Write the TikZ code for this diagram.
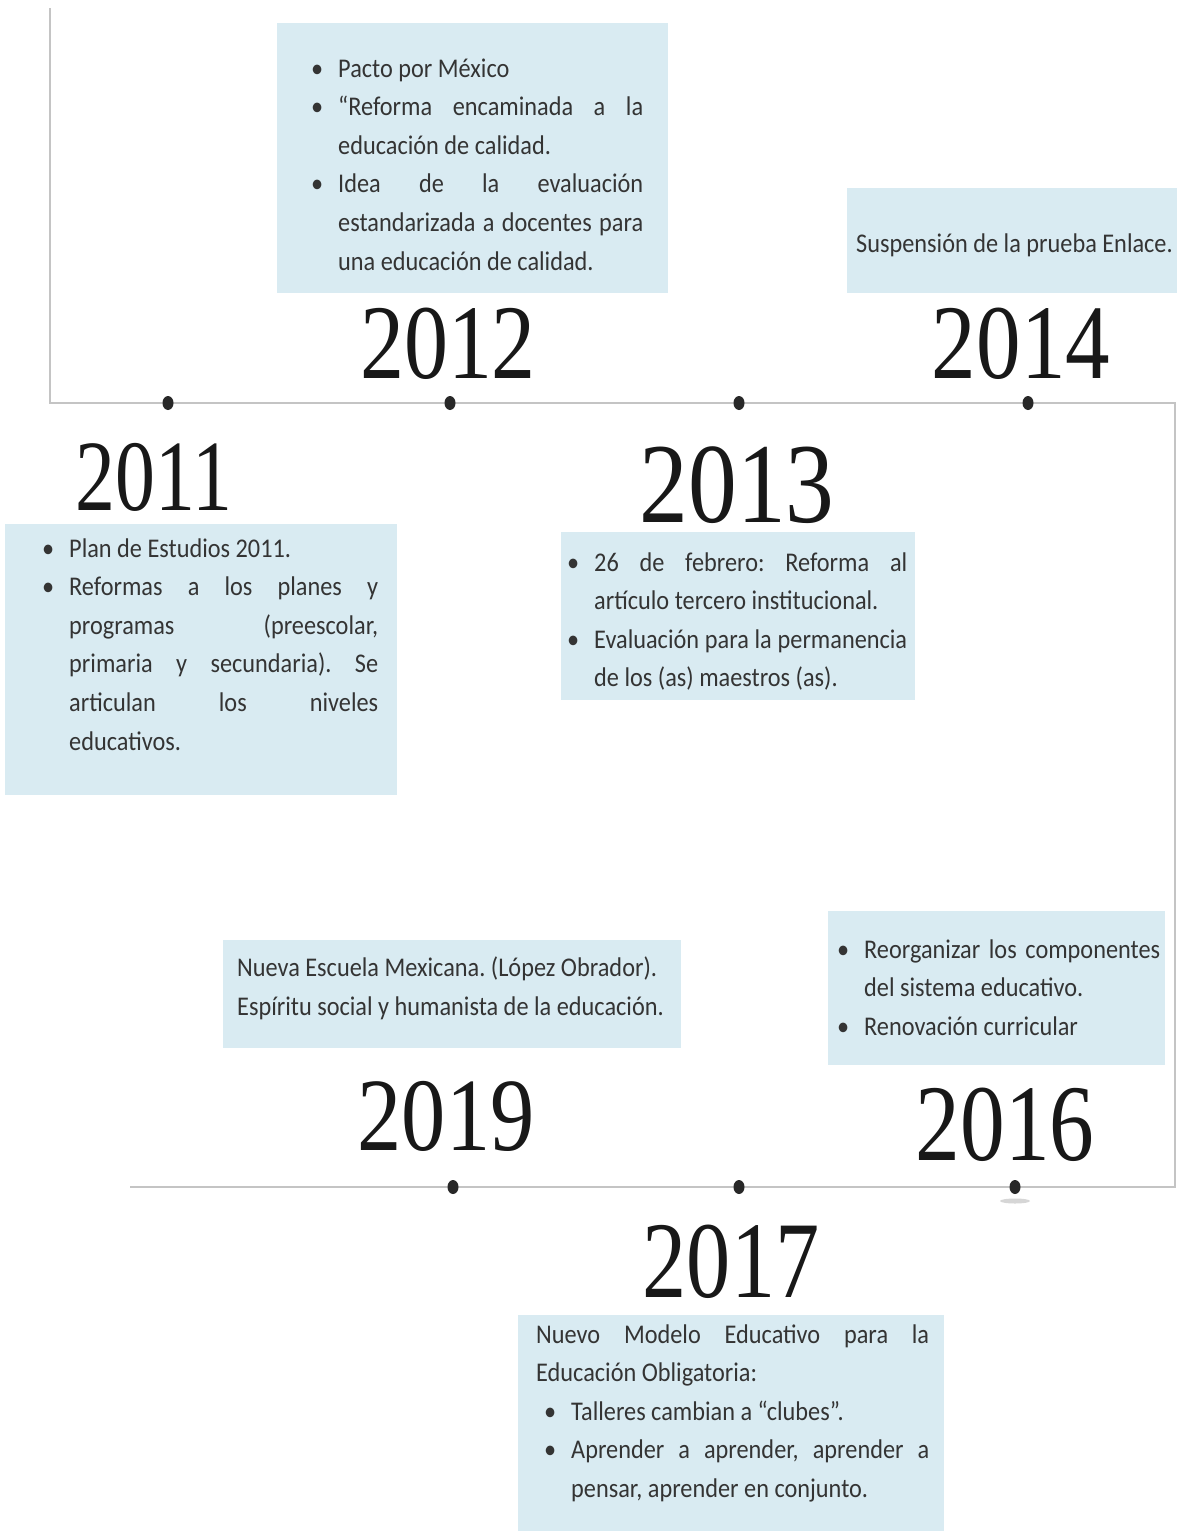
\documentclass[tikz,border=0pt]{standalone}
\usepackage{fontspec}
\usepackage{graphicx}
\usetikzlibrary{shapes.geometric}
\newfontfamily\boxfont{Carlito}[FakeStretch=0.9]
\newfontfamily\yearfont{Liberation Serif}
\definecolor{boxblue}{RGB}{217,235,242}
\definecolor{textgray}{RGB}{52,52,52}
\definecolor{yeargray}{RGB}{24,24,24}
\definecolor{linegray}{RGB}{196,196,196}
\definecolor{dotgray}{RGB}{40,40,40}
\hyphenpenalty=10000
\exhyphenpenalty=10000
\tolerance=10000
\frenchspacing
\newcommand\bulf{\noindent\hangindent=27pt\hangafter=1\makebox[27pt][l]{\textbullet}\ignorespaces}
\newcommand\bul{\par\bulf}
\newcommand\bulb{\par\noindent\hangindent=35pt\hangafter=1\hspace*{8pt}\makebox[27pt][l]{\textbullet}\ignorespaces}
\newcommand\yeartext[3]{\scalebox{#2}[1]{\fontsize{#1}{#1}\selectfont #3}}
\begin{document}
\begin{tikzpicture}[x=1pt,y=-1pt,
  panel/.style={fill=boxblue, draw=none, inner sep=0pt, anchor=north west},
  txt/.style={anchor=base west, inner sep=0pt, font=\boxfont\fontsize{27}{38.6}\selectfont, text=textgray, align=justify},
  txtl/.style={anchor=base west, inner sep=0pt, font=\boxfont\fontsize{27}{38.6}\selectfont, text=textgray, align=left},
  yr/.style={anchor=base, inner sep=0pt, text=yeargray, font=\yearfont},
  tline/.style={draw=linegray, line width=2.4pt},
  dot/.style={ellipse, fill=dotgray, minimum width=11pt, minimum height=14pt, inner sep=0pt}]
\useasboundingbox (0,0) rectangle (1177,1531);
\fill[white] (0,0) rectangle (1177,1531);

% timeline
\coordinate (tl) at (50,8);
\coordinate (tc) at (50,403);
\coordinate (tr) at (1175,403);
\coordinate (br) at (1175,1187);
\coordinate (bl) at (130,1187);
\draw[tline] (tl) -- (tc) -- (tr) -- (br) -- (bl);

% panels
\node[panel, minimum width=391pt, minimum height=270pt] (p2012) at (277,23) {};
\node[panel, minimum width=330pt, minimum height=105pt] (p2014) at (847,188) {};
\node[panel, minimum width=392pt, minimum height=271pt] (p2011) at (5,524) {};
\node[panel, minimum width=354pt, minimum height=168pt] (p2013) at (561,532) {};
\node[panel, minimum width=458pt, minimum height=108pt] (p2019) at (223,940) {};
\node[panel, minimum width=337pt, minimum height=154pt] (p2016) at (828,911) {};
\node[panel, minimum width=426pt, minimum height=216pt] (p2017) at (518,1315) {};

% dots
\node[dot] (d2011) at (168,403) {};
\node[dot] (d2012) at (450,403) {};
\node[dot] (d2013) at (739,403) {};
\node[dot] (d2014) at (1028,403) {};
\node[dot] (d2019) at (453,1187) {};
\node[dot] (d2017) at (739,1187) {};
\fill[gray!45, opacity=0.7] (1015,1201) ellipse (15 and 2.5);
\node[dot] (d2016) at (1015,1187) {};

% years
\node[yr] (y2011) at (154,510) {\yeartext{101}{0.79}{2011}};
\node[yr] (y2012) at (448,378) {\yeartext{106}{0.83}{2012}};
\node[yr] (y2013) at (737,522) {\yeartext{114}{0.855}{2013}};
\node[yr] (y2014) at (1021,378) {\yeartext{106}{0.84}{2014}};
\node[yr] (y2019) at (446,1150) {\yeartext{104}{0.85}{2019}};
\node[yr] (y2016) at (1005,1160) {\yeartext{109}{0.82}{2016}};
\node[yr] (y2017) at (731,1297) {\yeartext{109}{0.81}{2017}};

% texts
\node[txt, text width=332pt] (t2012) at (311,77)
  {\bulf Pacto por México\bul “Reforma encaminada a la\linebreak educación de calidad.\bul Idea de la evaluación\linebreak estandarizada a docentes para\linebreak una educación de calidad.\par};
\node[txt, align=left] (t2014) at (856,252) {Suspensión de la prueba Enlace.};
\node[txt, text width=336pt] (t2011) at (42,557)
  {\bulf Plan de Estudios 2011.\bul Reformas a los planes y\linebreak programas (preescolar,\linebreak primaria y secundaria). Se\linebreak articulan los niveles\linebreak educativos.\par};
\node[txt, text width=340pt] (t2013) at (567,571)
  {\bulf 26 de febrero: Reforma al\linebreak artículo tercero institucional.\bul Evaluación para la permanencia\linebreak de los (as) maestros (as).\par};
\node[txtl] (t2019) at (237,1015)
  {Nueva Escuela Mexicana. (López Obrador).\\Espíritu social y humanista de la educación.};
\node[txt, text width=323pt] (t2016) at (837,958)
  {\bulf Reorganizar los componentes\linebreak del sistema educativo.\bul Renovación curricular\par};
\node[txt, text width=393pt] (t2017) at (536,1343)
  {\noindent Nuevo Modelo Educativo para la\linebreak Educación Obligatoria:\bulb Talleres cambian a “clubes”.\bulb Aprender a aprender, aprender a\linebreak pensar, aprender en conjunto.\par};
\end{tikzpicture}
\end{document}
